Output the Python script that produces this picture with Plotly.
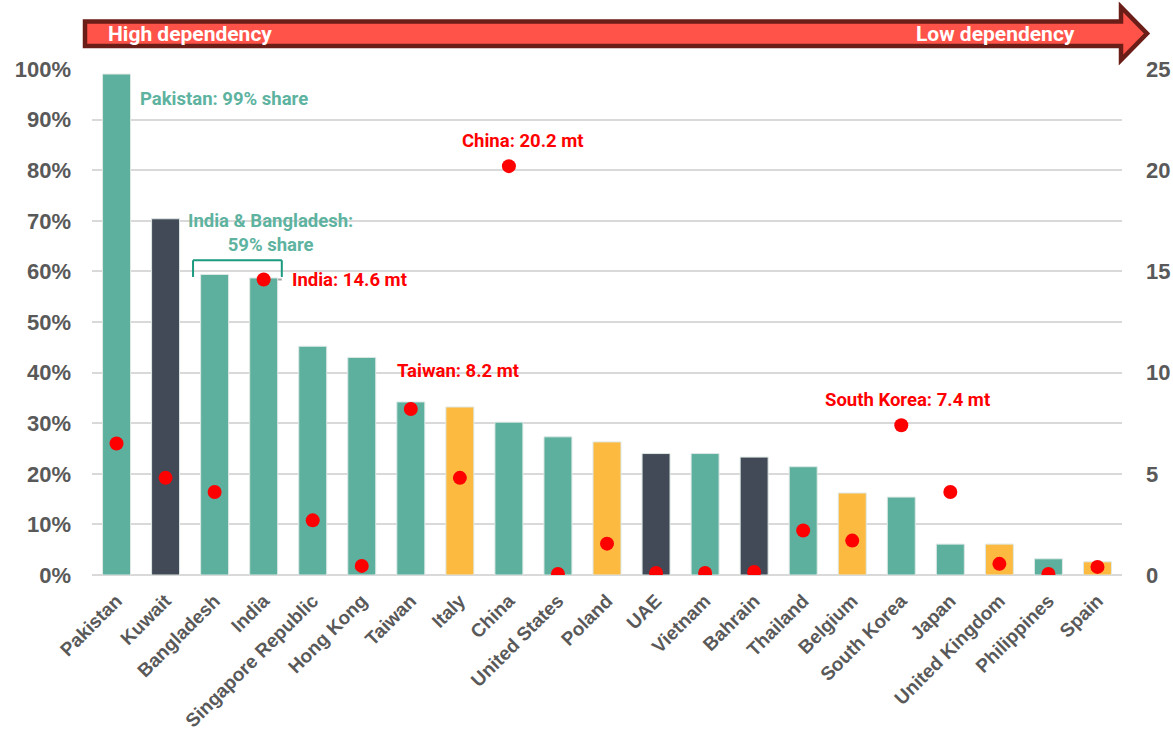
import plotly.graph_objects as go

# ---------------- data ----------------
countries = ["Pakistan", "Kuwait", "Bangladesh", "India", "Singapore Republic", "Hong Kong",
             "Taiwan", "Italy", "China", "United States", "Poland", "UAE", "Vietnam", "Bahrain",
             "Thailand", "Belgium", "South Korea", "Japan", "United Kingdom", "Philippines", "Spain"]
share_pct = [99.0, 70.4, 59.4, 58.7, 45.2, 43.0, 34.2, 33.2, 30.2, 27.3, 26.3, 24.0, 24.0, 23.3,
             21.4, 16.2, 15.4, 6.1, 6.1, 3.2, 2.6]
volume_mt = [6.5, 4.8, 4.1, 14.6, 2.7, 0.45, 8.2, 4.8, 20.2, 0.05, 1.55, 0.1, 0.1, 0.15,
             2.2, 1.7, 7.4, 4.1, 0.55, 0.05, 0.4]
group = ["teal", "dark", "teal", "teal", "teal", "teal", "teal", "yellow", "teal", "teal", "yellow",
         "dark", "teal", "dark", "teal", "yellow", "teal", "teal", "yellow", "teal", "yellow"]
left_ticks = [0, 10, 20, 30, 40, 50, 60, 70, 80, 90, 100]
right_ticks = [0, 5, 10, 15, 20, 25]

palette = {"teal": "#5CB09D", "dark": "#414A56", "yellow": "#FDBA40"}
bar_colors = [palette[g] for g in group]

W, H = 1173, 733
ML, MR, MT, MB = 92, 51, 69, 158
PW, PH = W - ML - MR, H - MT - MB


def px(x):
    return (x - ML) / PW


def py(y):
    return (H - MB - y) / PH


AXIS_FONT = "Liberation Sans, Arial, sans-serif"
ANN_FONT = "Roboto, sans-serif"
GREY = "#595959"

fig = go.Figure()
fig.add_trace(go.Bar(
    x=countries, y=share_pct, marker=dict(color=bar_colors, line=dict(color="#DDE8E5", width=1)),
    yaxis="y", showlegend=False, hoverinfo="x+y"))
fig.add_trace(go.Scatter(
    x=countries, y=volume_mt, mode="markers", yaxis="y2",
    marker=dict(color="#FF0000", size=14), showlegend=False))

# arrow banner
ax0, hx, tip = 85, 1121, 1147
bt, bb, ht, hb, cy = 21.5, 46, 7, 60, 33.5
path = (f"M {px(ax0)},{py(bt)} L {px(hx)},{py(bt)} L {px(hx)},{py(ht)} L {px(tip)},{py(cy)} "
        f"L {px(hx)},{py(hb)} L {px(hx)},{py(bb)} L {px(ax0)},{py(bb)} Z")
shapes = [dict(type="path", xref="paper", yref="paper", path=path,
               fillcolor="#FF5248", line=dict(color="#6B1D17", width=4.5), layer="above")]

# bracket for India & Bangladesh
bc = "#1A9A7F"
shapes += [
    dict(type="line", xref="x", yref="y", x0=1.56, x1=3.37, y0=62.2, y1=62.2, line=dict(color=bc, width=2)),
    dict(type="line", xref="x", yref="y", x0=1.56, x1=1.56, y0=62.2, y1=58.9, line=dict(color=bc, width=2)),
    dict(type="line", xref="x", yref="y", x0=3.37, x1=3.37, y0=62.2, y1=58.9, line=dict(color=bc, width=2)),
    dict(type="line", xref="x", yref="y2", x0=3.0, x1=3.37, y0=14.6, y1=14.6,
         line=dict(color="#A6A6A6", width=2), layer="below"),
]

ann_teal = "#5DB39F"
AS = 18.5
annotations = [
    dict(text="High dependency", x=px(106), y=py(34), xref="paper", yref="paper", xanchor="left",
         yanchor="middle", showarrow=False, font=dict(family=ANN_FONT, size=21, color="white", weight="bold")),
    dict(text="Low dependency", x=px(1077), y=py(34), xref="paper", yref="paper", xanchor="right",
         yanchor="middle", showarrow=False, font=dict(family=ANN_FONT, size=21, color="white", weight="bold")),
    dict(text="Pakistan: 99% share", x=0.44, y=94.1, xref="x", yref="y", xanchor="left", yanchor="middle",
         showarrow=False, font=dict(family=ANN_FONT, size=AS, color=ann_teal, weight="bold")),
    dict(text="India & Bangladesh:<br>59% share", x=3.13, y=67.6, xref="x", yref="y", xanchor="center",
         yanchor="middle", showarrow=False,
         font=dict(family=ANN_FONT, size=AS, color=ann_teal, weight="bold")),
    dict(text="India: 14.6 mt", x=3.54, y=14.6, xref="x", yref="y2", xanchor="left", yanchor="middle",
         showarrow=False, font=dict(family=ANN_FONT, size=AS, color="#FF0000", weight="bold")),
    dict(text="China: 20.2 mt", x=8.29, y=21.44, xref="x", yref="y2", xanchor="center", yanchor="middle",
         showarrow=False, font=dict(family=ANN_FONT, size=AS, color="#FF0000", weight="bold")),
    dict(text="Taiwan: 8.2 mt", x=6.96, y=10.08, xref="x", yref="y2", xanchor="center", yanchor="middle",
         showarrow=False, font=dict(family=ANN_FONT, size=AS, color="#FF0000", weight="bold")),
    dict(text="South Korea: 7.4 mt", x=16.12, y=8.65, xref="x", yref="y2", xanchor="center", yanchor="middle",
         showarrow=False, font=dict(family=ANN_FONT, size=AS, color="#FF0000", weight="bold")),
]

fig.update_layout(
    width=W, height=H, margin=dict(l=ML, r=MR, t=MT, b=MB, autoexpand=False),
    plot_bgcolor="white", paper_bgcolor="white", bargap=0.43,
    xaxis=dict(type="category", tickangle=-45, showgrid=False, showline=False, zeroline=False,
               ticks="", tickfont=dict(family=AXIS_FONT, size=19, color=GREY, weight="bold"),
               ticklabelstandoff=10, range=[-0.5, len(countries) - 0.5]),
    yaxis=dict(range=[0, 100], tickvals=left_ticks, ticktext=[f"{v}%" for v in left_ticks],
               showgrid=True, gridcolor="#D9D9D9", gridwidth=2, zeroline=True, zerolinecolor="#D9D9D9",
               zerolinewidth=2, showline=False, ticks="",
               tickfont=dict(family=AXIS_FONT, size=22, color=GREY, weight="bold"), ticklabelstandoff=20),
    yaxis2=dict(range=[0, 25], tickvals=right_ticks, overlaying="y", side="right", showgrid=False,
                zeroline=False, showline=False, ticks="",
                tickfont=dict(family=AXIS_FONT, size=22, color=GREY, weight="bold"), ticklabelstandoff=23),
    shapes=shapes, annotations=annotations,
)

fig.write_html("out.html", config={"displayModeBar": False},
               post_script="document.body.style.margin='0px';document.body.style.overflow='hidden';")
